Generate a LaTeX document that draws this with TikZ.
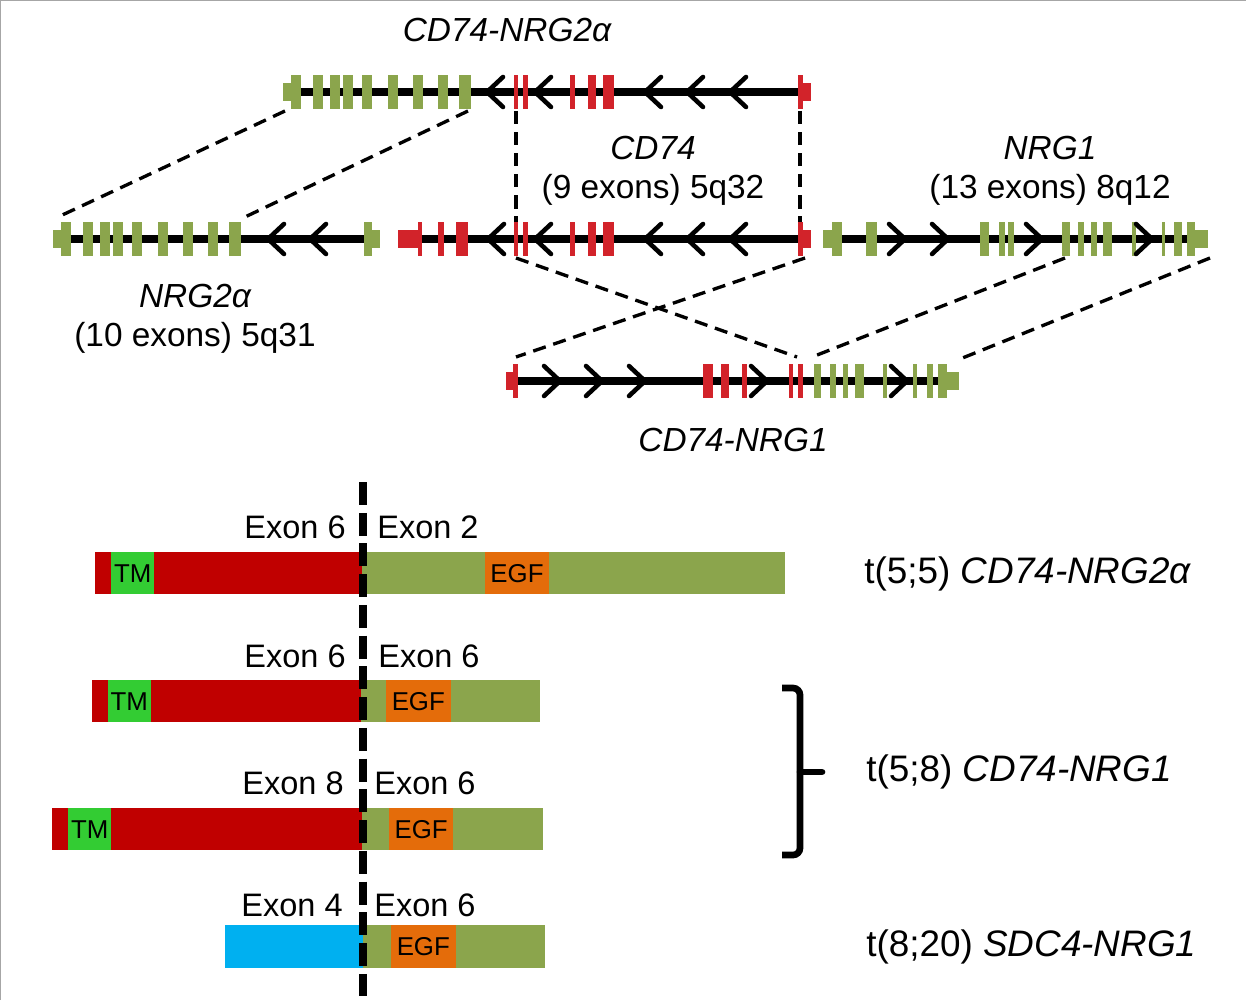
\documentclass[tikz,border=0pt]{standalone}
\usepackage{fontspec}
\setmainfont{Liberation Sans}
\usepackage{xcolor}
\usetikzlibrary{positioning,calc}

\definecolor{nrgolive}{RGB}{139,165,76}
\definecolor{cdred}{RGB}{210,35,42}
\definecolor{protred}{RGB}{192,0,0}
\definecolor{tmgreen}{RGB}{51,204,51}
\definecolor{egforange}{RGB}{228,108,10}
\definecolor{sdcblue}{RGB}{0,176,240}

\tikzset{
  backbone/.style={line width=4pt},
  chev/.style={line width=2.6pt, line cap=round, line join=round},
  link/.style={line width=1.9pt, dash pattern=on 7.5pt off 4.5pt},
  genelabel/.style={font=\fontsize{19}{22}\selectfont, inner sep=0pt},
  exonlabel/.style={font=\fontsize{18.5}{22}\selectfont, inner sep=0pt},
  fusionlabel/.style={font=\fontsize{21}{25}\selectfont, inner sep=0pt, anchor=west},
  dombox/.style={font=\fontsize{14.7}{17}\selectfont, inner sep=0pt}
}

\begin{document}
\begin{tikzpicture}[x=0.02cm,y=-0.02cm]
\useasboundingbox (0,0) rectangle (1246,1000);
\draw[gray!70, line width=1pt] (0.5,1000) -- (0.5,0.5) -- (1246,0.5);

% CD74-NRG2a (top)
\begin{scope}[shift={(0,92)}]
\draw[backbone] (283,0) -- (811,0);
\fill[nrgolive] (283,-9) rectangle (291.3,9);
\foreach \a/\b in {291.3/301.3,312.7/323.4,330/340,343.4/353.4,362.4/372.4,388.4/397.7,412.7/422.7,437.7/447.7,459.4/471}
  \fill[nrgolive] (\a,-17) rectangle (\b,17);
\foreach \a/\b in {514/518.3,523.3/527.7,570/575,588.3/595.7,603.3/614.3,798.3/802.7}
  \fill[cdred] (\a,-17) rectangle (\b,17);
\fill[cdred] (802.7,-9) rectangle (810.7,9);
\foreach \t in {487,535,645,687,730}
  \draw[chev] (\t+16,-15) -- (\t,0) -- (\t+16,15);
\coordinate (topA) at (285,19);
\coordinate (topB) at (468,19);
\coordinate (topC) at (516,19);
\coordinate (topD) at (800,19);
\end{scope}
\node[genelabel] (fuse1) at (507,30) {\itshape CD74-NRG2α};

% NRG2a
\begin{scope}[shift={(0,239)}]
\draw[backbone] (53,0) -- (380,0);
\fill[nrgolive] (53,-9) rectangle (61.3,9);
\foreach \a/\b in {61.3/71.3,82.7/93.4,100/110,113.4/123.4,132.4/142.4,158.4/167.7,182.7/192.7,207.7/217.7,229.4/241,363.7/372}
  \fill[nrgolive] (\a,-17) rectangle (\b,17);
\fill[nrgolive] (372,-9) rectangle (380,9);
\foreach \t in {268,310}
  \draw[chev] (\t+16,-15) -- (\t,0) -- (\t+16,15);
\coordinate (nrgA) at (58,-22);
\coordinate (nrgB) at (245,-22);
\end{scope}
\node[genelabel] (nrg2) at (195,296) {\itshape NRG2α};
\node[genelabel, below=8pt of nrg2] (nrg2b) {(10 exons) 5q31};

% CD74
\begin{scope}[shift={(0,239)}]
\draw[backbone] (398,0) -- (811,0);
\fill[cdred] (398,-9) rectangle (418.3,9);
\foreach \a/\b in {418.3/422.3,438.3/444,456/467.7,514/518.3,523.3/527.7,570/575,588.3/595.7,603.3/614.3,798.3/802.7}
  \fill[cdred] (\a,-17) rectangle (\b,17);
\fill[cdred] (802.7,-9) rectangle (810.7,9);
\foreach \t in {488,535,645,687,730}
  \draw[chev] (\t+16,-15) -- (\t,0) -- (\t+16,15);
\coordinate (cdA) at (516,-17);
\coordinate (cdB) at (800,-17);
\coordinate (cdC) at (516,19);
\coordinate (cdD) at (805,19);
\end{scope}
\node[genelabel] (cd74) at (653,148) {\itshape CD74};
\node[genelabel, below=8pt of cd74] (cd74b) {(9 exons) 5q32};

% NRG1
\begin{scope}[shift={(0,239)}]
\draw[backbone] (823,0) -- (1208,0);
\fill[nrgolive] (823,-9) rectangle (831.7,9);
\foreach \a/\b in {831.7/841.7,865.7/876.7,980/989,999.3/1005,1008.3/1014.3,1061.7/1070,1078.3/1084.3,1091/1097.3,1103.3/1112.3,1131.7/1135.7,1161.7/1165,1174.3/1181.7,1186.7/1195}
  \fill[nrgolive] (\a,-17) rectangle (\b,17);
\fill[nrgolive] (1195,-9) rectangle (1208,9);
\foreach \t in {905,948,1042,1152}
  \draw[chev] (\t-16,-15) -- (\t,0) -- (\t-16,15);
\coordinate (nrA) at (1065,19);
\coordinate (nrB) at (1210,19);
\end{scope}
\node[genelabel] (nrg1) at (1050,148) {\itshape NRG1};
\node[genelabel, below=8pt of nrg1] (nrg1b) {(13 exons) 8q12};

% CD74-NRG1 (fused)
\begin{scope}[shift={(0,381)}]
\draw[backbone] (506,0) -- (959,0);
\fill[cdred] (506,-9) rectangle (513,9);
\foreach \a/\b in {513/518,703.3/713.3,721/729,742.3/746.7,789/793.3,798.3/803.3}
  \fill[cdred] (\a,-17) rectangle (\b,17);
\foreach \a/\b in {814/821,830/836,843.3/848.3,855/864.3,883.3/887.3,913.3/916.7,926.7/933.3,938.3/946.7}
  \fill[nrgolive] (\a,-17) rectangle (\b,17);
\fill[nrgolive] (946.7,-9) rectangle (959.3,9);
\foreach \t in {560,602,645,767,907}
  \draw[chev] (\t-16,-15) -- (\t,0) -- (\t-16,15);
\coordinate (fuA) at (516,-24);
\coordinate (fuB) at (797,-24);
\coordinate (fuC) at (812,-24);
\coordinate (fuD) at (960,-22);
\end{scope}
\node[genelabel] (fuse2) at (733,440) {\itshape CD74-NRG1};

% dashed links
\draw[link] (topA) -- (nrgA);
\draw[link] (topB) -- (nrgB);
\draw[link] (topC) -- (cdA);
\draw[link] (topD) -- (cdB);
\draw[link] (cdC) -- (fuB);
\draw[link] (cdD) -- (fuA);
\draw[link] (nrA) -- (fuC);
\draw[link] (nrB) -- (fuD);

% proteins
\fill[protred] (95,552) rectangle (362,594);
\fill[nrgolive] (362,552) rectangle (785,594);
\fill[tmgreen] (111,552) rectangle (154.3,594);
\fill[egforange] (485,552) rectangle (549,594);
\node[dombox] (tm1) at (132.7,574) {TM};
\node[dombox] (egf1) at (517,574) {EGF};

\fill[protred] (91.7,680) rectangle (361,722);
\fill[nrgolive] (361,680) rectangle (540,722);
\fill[tmgreen] (107.7,680) rectangle (151,722);
\fill[egforange] (386,680) rectangle (450.7,722);
\node[dombox] (tm2) at (129.3,702) {TM};
\node[dombox] (egf2) at (418.3,702) {EGF};

\fill[protred] (51.7,808) rectangle (362,850);
\fill[nrgolive] (362,808) rectangle (543,850);
\fill[tmgreen] (68.3,808) rectangle (111,850);
\fill[egforange] (389,808) rectangle (453.3,850);
\node[dombox] (tm3) at (89.7,830) {TM};
\node[dombox] (egf3) at (421.2,830) {EGF};

\fill[sdcblue] (225,925) rectangle (363,968);
\fill[nrgolive] (363,925) rectangle (545,968);
\fill[egforange] (391,925) rectangle (455.7,968);
\node[dombox] (egf4) at (423.3,947) {EGF};

% breakpoint
\coordinate (brkT) at (363,482);
\coordinate (brkB) at (363,996);
\draw[line width=4.2pt, dash pattern=on 13pt off 4.5pt] (brkT) -- (brkB);

\node[exonlabel, anchor=east] (e1l) at (346,527) {Exon 6};
\node[exonlabel, anchor=west] (e1r) at (377,527) {Exon 2};
\node[exonlabel, anchor=east] (e2l) at (346,656) {Exon 6};
\node[exonlabel, anchor=west] (e2r) at (378,656) {Exon 6};
\node[exonlabel, anchor=east] (e3l) at (344,783) {Exon 8};
\node[exonlabel, anchor=west] (e3r) at (374,783) {Exon 6};
\node[exonlabel, anchor=east] (e4l) at (343,905) {Exon 4};
\node[exonlabel, anchor=west] (e4r) at (374,905) {Exon 6};

% translocations
\node[fusionlabel] (t55) at (864,574) {t(5;5) \itshape CD74-NRG2α};
\node[fusionlabel] (t58) at (866,772) {t(5;8) \itshape CD74-NRG1};
\node[fusionlabel] (t820) at (866,947) {t(8;20) \itshape SDC4-NRG1};

% bracket
\coordinate (brA) at (782,688);
\coordinate (brB) at (782,855);
\coordinate (brM) at (822,772);
\draw[line width=3.8pt, rounded corners=4pt] (brA) -- (800,688) -- (800,855) -- (brB);
\draw[line width=3.8pt, line cap=round] (800,772) -- (brM);
\end{tikzpicture}
\end{document}
